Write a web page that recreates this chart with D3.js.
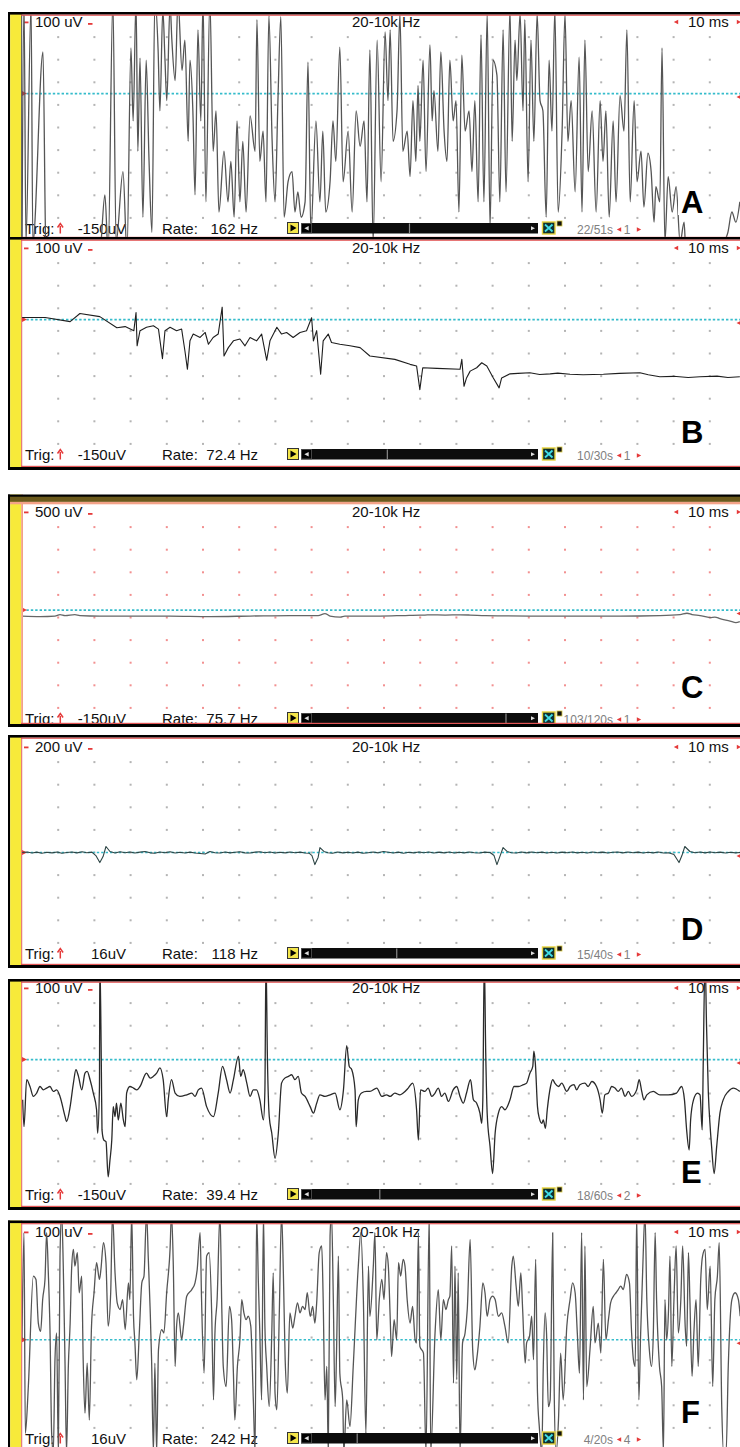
<!DOCTYPE html>
<html>
<head>
<meta charset="utf-8">
<script src="https://d3js.org/d3.v7.min.js"></script>
<style>
  html, body { margin: 0; padding: 0; background: #fff; }
  svg { display: block; font-family: Arial, "Liberation Sans", sans-serif; }
</style>
</head>
<body>
<div id="canvas"></div>
<script>
var W = 740, H = 1447;

// recording settings, one entry per trace A..F
var letters = ['A', 'B', 'C', 'D', 'E', 'F'];
var sensitivity = [100, 100, 500, 200, 100, 100];      // uV per division
var baselineDiv = [3.5, 3.5, 4.67, 5.0, 3.5, 5.1];     // trace zero, divisions from top
var trigLevels = ['-150uV', '-150uV', '-150uV', '16uV', '-150uV', '16uV'];
var rates = ['162 Hz', '72.4 Hz', '75.7 Hz', '118 Hz', '39.4 Hz', '242 Hz'];
var sweepNow = [22, 10, 103, 15, 18, 4];
var sweepTotal = [51, 30, 120, 40, 60, 20];
var channels = [1, 1, 1, 1, 2, 4];
var filterText = '20-10k Hz';
var msPerDiv = 10;

// traces: [time ms, amplitude uV]
var traceA = [[0,-659],[0.55,417],[1.1,-659],[2.5,394],[3.0,-659],[5.8,184],[6.6,-681],[10.5,-748],[16.0,-748],[21.5,-703],[22.9,-448],[23.8,-703],[25.1,417],[26.0,-659],[27.9,-345],[29.0,-703],[30.1,202],[30.7,-121],[31.5,417],[32.0,-255],[32.6,157],[33.4,-547],[34.3,148],[35.1,-300],[35.9,-614],[36.7,417],[37.6,193],[38.1,-76],[38.9,372],[39.5,148],[40.0,-31],[40.9,394],[41.4,237],[42.3,58],[43.1,417],[44.2,103],[45.0,237],[45.9,-211],[46.4,148],[47.2,-76],[47.8,-448],[48.6,282],[49.4,-121],[50.0,417],[50.8,-479],[51.9,417],[52.8,-255],[53.6,-76],[54.4,-524],[55.8,-255],[56.9,-479],[57.7,-300],[58.6,-547],[59.4,-121],[60.2,-479],[61.0,-211],[61.9,-524],[63.0,-99],[64.4,-255],[64.9,327],[65.7,-300],[66.6,-166],[67.4,-479],[68.2,345],[69.1,-211],[69.9,-479],[70.7,-31],[71.5,340],[72.4,-547],[73.5,-390],[74.6,-345],[75.4,-524],[76.2,-435],[77.1,-547],[78.2,-479],[79.0,139],[79.8,-614],[81.2,-121],[82.3,-479],[83.1,-166],[83.9,-524],[85.1,-390],[85.9,-121],[86.7,-300],[87.8,206],[88.7,-390],[90.1,-166],[91.2,-524],[92.3,-76],[93.4,-233],[94.5,-121],[95.3,-479],[96.1,193],[97.0,-659],[98.1,237],[99.2,-390],[100.3,273],[101.1,-31],[101.7,282],[102.5,-211],[103.6,-76],[104.4,354],[105.2,-255],[106.4,-166],[107.2,-367],[108.0,-31],[108.8,-300],[109.4,36],[109.9,-211],[110.8,148],[111.6,-345],[112.7,215],[113.3,-121],[113.8,13],[114.9,-255],[115.7,184],[116.6,-166],[117.4,-300],[118.2,148],[119.1,-121],[119.9,-31],[120.7,-524],[121.5,170],[122.4,-166],[123.5,-76],[124.3,-345],[125.1,-31],[126.0,-479],[126.8,260],[127.6,-479],[128.5,354],[129.3,-591],[130.1,148],[131.2,81],[132.0,-479],[132.9,282],[133.7,-435],[134.8,372],[135.4,-211],[136.2,237],[136.7,58],[137.6,354],[138.4,-76],[138.9,327],[139.8,-390],[140.6,237],[141.4,-211],[142.3,354],[143.1,-31],[143.9,-76],[144.8,-547],[145.6,148],[146.4,-166],[147.2,372],[148.1,-524],[149.2,-166],[150.0,354],[150.8,-211],[151.7,-31],[152.8,-435],[153.9,161],[154.7,-524],[155.5,237],[156.4,-345],[157.5,-76],[158.6,-524],[159.7,-31],[160.5,-300],[161.3,-76],[162.2,-547],[163.3,-121],[164.1,-479],[165.2,-9],[166.3,-166],[167.1,282],[168.0,-479],[169.1,-31],[169.9,-390],[171.0,-255],[171.8,-502],[172.9,-264],[173.8,-345],[174.6,-569],[175.1,-412],[176.2,-479],[176.8,202],[177.6,-659],[178.5,-367],[179.6,-524],[180.7,-412],[181.8,-659],[182.9,-569],[183.4,-703],[184.5,-650],[187.3,-748],[192.8,-681],[195.0,-614],[196.1,-524],[197.2,-569],[198.3,-479]];

var traceB = [[0,9],[6.4,9],[13.3,-9],[16,27],[21.5,13],[26.2,-36],[28.5,-31],[30.9,-49],[31.5,31],[31.8,-116],[32.6,-49],[34.4,-34],[36.3,-27],[37.7,-42],[38.8,-173],[39.5,-49],[40.9,-34],[42.7,-49],[44.1,-42],[45.0,-138],[45.7,-220],[46.4,-94],[47.3,-64],[49.2,-79],[50.6,-57],[51.5,-109],[52.8,-79],[54.2,-64],[55.3,55],[55.8,-161],[57.0,-124],[58.4,-94],[60.2,-86],[61.6,-116],[63.0,-79],[64.8,-94],[66.2,-64],[67.6,-180],[68.5,-94],[70.4,-34],[71.7,-64],[73.1,-57],[74.9,-79],[76.8,-57],[78.6,-49],[80.0,8],[80.5,-94],[81.4,-49],[82.5,-242],[83.2,-94],[84.6,-64],[85.5,-101],[87.8,-109],[90.6,-116],[93.4,-124],[96.1,-161],[103.0,-176],[107.2,-198],[109.0,-205],[109.9,-310],[110.7,-213],[114.6,-216],[121.0,-220],[121.5,-176],[122.1,-295],[122.8,-258],[123.8,-228],[125.6,-213],[127.0,-191],[128.4,-205],[130.2,-258],[131.8,-302],[132.5,-258],[134.8,-240],[137,-238],[140.3,-235],[143,-243],[145.9,-240],[148,-237],[151.4,-242],[155,-244],[160.6,-242],[165,-238],[170.7,-235],[173,-244],[176.2,-253],[180,-251],[184,-256],[187.3,-253],[192,-250],[195,-256],[198.3,-253]];

var traceC = [[0,-133],[5.0,-144],[9.1,-133],[10.5,-100],[11.9,-122],[14.6,-100],[16.0,-122],[21.5,-133],[29.8,-133],[40.9,-133],[51.9,-144],[63.0,-133],[74.0,-122],[81.8,-122],[83.7,-78],[85.1,-133],[87.9,-155],[89.2,-133],[98.9,-133],[105.2,-122],[110.0,-111],[111.3,-111],[112.7,-107],[116.9,-111],[121.0,-107],[123.8,-111],[127.9,-122],[140.3,-133],[154.1,-133],[165.2,-133],[176.2,-122],[181.8,-100],[183.7,-71],[185.1,-100],[187.3,-122],[190.1,-167],[191.4,-155],[192.8,-189],[195.6,-244],[197.2,-278],[198.3,-255]];

var traceD = [[0,0],[1.4,4],[2.8,-4],[4.1,3],[5.5,-6],[6.9,2],[8.3,-3],[9.7,5],[11.0,-7],[12.4,0],[13.8,4],[15.2,-3],[16.6,6],[17.9,-2],[19.3,3],[20.4,-27],[21.5,-89],[22.4,-36],[23.2,53],[24.3,9],[25.7,-4],[27.1,6],[28.5,-2],[29.8,5],[31.2,-4],[32.6,3],[34.0,9],[35.4,-3],[36.7,-6],[38.1,4],[39.5,-2],[40.9,7],[42.3,-4],[43.6,2],[45.0,-5],[46.4,3],[47.8,-4],[49.2,-9],[50.6,-13],[51.9,9],[53.3,-2],[54.7,-4],[56.1,5],[57.5,-3],[58.9,2],[60.2,6],[61.6,-3],[63.0,-5],[64.4,3],[65.7,6],[67.1,-2],[68.5,4],[69.9,-4],[71.3,2],[72.7,-3],[74.0,5],[75.4,-2],[76.8,3],[78.2,-4],[79.3,-6],[80.1,-27],[80.9,-107],[81.8,-44],[82.3,44],[83.4,9],[84.5,-2],[85.8,-6],[87.2,4],[88.6,-3],[90.0,2],[91.4,-5],[92.8,3],[94.2,-7],[95.6,-2],[97.0,4],[98.4,-3],[99.8,9],[101.2,2],[102.6,-4],[104.0,3],[105.4,-6],[106.8,2],[108.2,-3],[109.6,4],[111.0,-2],[112.4,5],[113.8,-4],[115.2,3],[116.6,-3],[118.0,4],[119.4,-5],[120.8,2],[122.2,-3],[123.6,4],[125.0,-2],[126.4,-5],[127.8,3],[129.3,0],[130.4,-27],[131.2,-107],[132.0,-36],[132.9,44],[134.0,9],[135.2,-2],[136.6,-5],[138.0,4],[139.4,-3],[140.8,5],[142.2,-2],[143.6,3],[145.0,-4],[146.4,2],[147.8,-5],[149.2,3],[150.6,-2],[152.0,4],[153.4,-3],[154.8,2],[156.2,-4],[157.6,5],[159.0,-2],[160.4,3],[161.8,-4],[163.2,2],[164.6,5],[166.0,-3],[167.4,4],[168.8,-2],[170.2,3],[171.6,-4],[173.0,2],[174.4,-3],[175.8,4],[177.2,-5],[178.6,-2],[180.1,-18],[181.5,-89],[182.3,-27],[183.1,53],[184.5,9],[185.9,-2],[187.3,4],[188.7,-3],[190.1,5],[191.5,-2],[192.9,3],[194.3,-4],[195.7,2],[197.1,-3],[198.5,1]];

var traceE = [[0.18,-178],[0.55,-297],[1.29,-89],[2.21,-119],[3.13,-163],[4.05,-148],[4.97,-119],[5.89,-134],[6.81,-126],[7.73,-119],[8.65,-141],[9.57,-134],[10.5,-163],[11.9,-252],[12.3,-274],[13.3,-208],[14.2,-104],[14.9,-45],[15.6,-74],[16.5,-134],[17.4,-60],[18.0,-52],[18.8,-89],[19.7,-148],[20.6,-222],[20.9,-326],[21.4,-119],[21.5,450],[21.9,0],[22.1,-311],[22.6,-356],[23.2,-363],[23.8,-519],[24.3,-445],[24.8,-356],[25.2,-208],[25.7,-252],[26.1,-193],[26.6,-267],[27.3,-193],[28.0,-267],[28.5,-297],[28.9,-148],[29.8,-119],[30.8,-126],[31.7,-134],[32.6,-119],[34.4,-60],[35.4,-82],[36.3,-74],[37.2,-60],[38.1,-37],[39.0,-89],[39.96,-252],[40.4,-178],[41.3,-89],[42.3,-148],[43.6,-163],[45.5,-156],[46.9,-148],[47.8,-163],[48.7,-134],[49.6,-126],[51.0,-208],[52.9,-252],[54.2,-148],[55.4,-30],[56.5,-89],[57.5,-148],[58.4,-89],[59.8,15],[60.4,-74],[61.1,-45],[62.1,-104],[63.0,-163],[63.9,-134],[64.8,-134],[65.7,-178],[66.7,-267],[67.1,-134],[67.4,450],[67.8,0],[68.3,-252],[69.0,-326],[69.9,-437],[70.8,-326],[71.7,-104],[72.6,-82],[73.6,-74],[74.5,-67],[75.4,-89],[76.3,-74],[77.2,-148],[78.2,-163],[79.6,-208],[80.5,-237],[81.4,-193],[82.3,-156],[83.7,-163],[85.1,-156],[86.5,-148],[87.8,-222],[88.8,-134],[89.7,62],[90.4,-30],[91.1,-45],[92.0,-134],[92.3,-297],[92.9,-178],[93.8,-148],[95.2,-141],[96.1,-141],[98.0,-126],[99.4,-163],[100.7,-156],[101.7,-163],[103.0,-148],[104.4,-156],[105.3,-148],[106.7,-126],[107.9,-104],[109.0,-222],[109.5,-356],[110.1,-134],[111.3,-141],[112.2,-126],[113.2,-163],[114.1,-148],[115.0,-126],[115.9,-163],[116.8,-148],[117.8,-185],[119.1,-134],[120.1,-119],[121.0,-163],[121.9,-193],[122.8,-148],[123.9,-89],[124.7,-178],[125.6,-193],[126.5,-237],[127.0,-282],[127.3,-178],[127.7,450],[128.1,29],[128.5,-237],[129.3,-385],[130.0,-504],[130.7,-326],[131.6,-237],[132.5,-208],[133.4,-222],[134.8,-178],[135.9,-119],[137.1,-119],[138.5,-111],[139.4,-104],[140.3,-60],[141.1,-30],[141.4,37],[141.8,-15],[142.4,-208],[142.9,-259],[143.6,-282],[144.0,-267],[144.6,-304],[145.1,-222],[146.0,-119],[146.6,-89],[147.2,-104],[148.2,-119],[149.1,-104],[150.5,-141],[151.4,-119],[152.5,-111],[153.2,-134],[154.1,-111],[155.5,-104],[156.4,-119],[157.4,-97],[158.7,-119],[159.7,-178],[160.3,-237],[161.0,-156],[162.0,-148],[162.9,-119],[163.8,-126],[164.7,-141],[165.6,-126],[166.6,-163],[167.5,-141],[168.4,-163],[169.8,-134],[170.5,-89],[171.2,-141],[171.8,-178],[172.6,-156],[174.4,-141],[176.2,-156],[178.5,-156],[180.8,-148],[182.2,-119],[183.0,-178],[183.6,-311],[184.3,-400],[184.7,-267],[185.5,-178],[186.6,-148],[187.3,-156],[187.9,-311],[188.2,0],[188.7,450],[189.1,148],[189.6,-148],[190.1,-297],[190.5,-385],[191.2,-504],[191.9,-385],[192.8,-237],[193.7,-178],[195.1,-141],[196.5,-126],[198.3,-141]];

var traceF = [[0,0],[0.55,474],[0.92,-414],[1.75,-207],[3.13,282],[3.86,267],[4.51,74],[5.15,37],[5.71,178],[6.35,267],[6.81,474],[7.27,296],[7.73,45],[8.19,-414],[8.65,-500],[9.11,-88],[9.57,30],[10.03,-500],[10.5,370],[10.96,560],[11.4,326],[11.9,-118],[12.3,-500],[12.8,-118],[13.3,74],[13.7,311],[14.2,400],[14.6,326],[15.3,385],[15.8,208],[16.5,282],[16.9,-88],[17.4,-325],[18.0,-103],[18.6,-355],[19.2,60],[19.9,208],[20.6,341],[21.4,267],[21.8,311],[22.5,430],[23.2,341],[23.8,60],[24.5,208],[25.0,560],[25.7,296],[26.3,163],[27.1,134],[27.8,178],[28.5,45],[29.4,252],[29.8,178],[30.3,560],[30.8,104],[31.2,-14],[31.7,-177],[32.4,30],[33.1,252],[33.7,282],[34.4,560],[34.9,356],[35.4,134],[35.8,-88],[36.3,-500],[36.7,-103],[37.2,-500],[37.7,-44],[38.6,45],[39.2,30],[39.96,208],[40.9,400],[41.3,560],[41.8,326],[42.3,-118],[42.7,60],[43.2,119],[44.1,0],[44.6,60],[45.5,193],[46.9,222],[47.8,252],[48.4,311],[49.2,474],[49.6,178],[50.3,-148],[51.0,370],[51.7,385],[52.4,119],[52.9,-266],[53.3,30],[53.9,178],[54.7,560],[55.2,134],[55.6,-118],[56.4,-207],[57.3,148],[57.9,89],[58.4,-148],[58.8,-355],[59.5,-118],[60.2,0],[60.7,178],[61.3,119],[61.9,89],[62.5,104],[63.2,60],[63.9,-266],[64.4,-500],[64.8,560],[65.3,252],[65.7,30],[66.2,-266],[66.7,560],[67.1,60],[67.6,-118],[68.3,-296],[69.0,30],[69.4,296],[69.9,-236],[70.4,-310],[71.1,134],[71.7,560],[72.2,296],[72.7,-88],[73.3,-236],[74.0,119],[74.8,52],[75.4,104],[76.1,163],[76.8,119],[77.5,148],[78.2,134],[78.8,208],[79.6,104],[80.3,148],[80.9,74],[81.4,163],[82.1,385],[82.8,415],[83.2,178],[83.7,-266],[84.2,-118],[84.6,-500],[85.1,459],[85.5,560],[86.0,178],[86.5,-296],[86.9,-44],[87.4,370],[87.8,-148],[88.6,-266],[88.9,-500],[89.7,-266],[90.6,-384],[91.5,-118],[92.9,326],[93.6,474],[94.3,178],[95.0,-414],[95.7,326],[96.1,104],[97.05,326],[97.5,474],[98.0,0],[98.7,178],[99.4,267],[100.0,178],[100.7,385],[101.2,326],[101.7,104],[102.1,-74],[102.8,89],[103.5,0],[104.0,341],[104.6,282],[105.3,356],[105.8,326],[106.4,178],[107.2,74],[107.9,148],[108.6,0],[109.0,-14],[109.5,474],[109.9,-29],[110.9,-59],[111.6,-500],[112.5,560],[112.9,-500],[114.1,30],[115.0,222],[115.7,0],[116.4,178],[117.1,134],[117.8,178],[118.2,193],[118.7,415],[119.2,-192],[119.6,326],[120.1,-177],[120.5,296],[121.0,-500],[121.7,-14],[122.4,30],[123.0,134],[123.8,444],[124.5,-44],[125.1,-133],[125.6,-88],[126.5,60],[127.3,252],[127.9,208],[128.5,104],[129.3,178],[130.0,193],[130.7,178],[131.6,104],[132.5,119],[133.4,60],[134.3,-14],[135.3,326],[135.7,370],[136.5,237],[137.1,148],[137.8,296],[138.3,134],[139.0,-103],[139.4,-14],[140.2,15],[140.8,104],[141.3,-88],[141.9,356],[142.4,-236],[142.9,-384],[143.6,-500],[144.0,-118],[144.5,119],[144.9,30],[145.4,-296],[145.9,-266],[146.6,474],[147.0,-207],[147.5,-500],[148.2,-355],[148.8,-59],[149.5,-266],[150.5,60],[151.4,178],[152.1,252],[152.8,208],[153.4,30],[154.0,-148],[154.6,474],[155.1,-266],[155.5,415],[156.0,-207],[156.9,-44],[157.8,148],[158.3,-14],[159.2,74],[159.9,-59],[160.6,356],[161.3,0],[162.0,89],[162.6,163],[163.4,193],[164.1,208],[164.7,222],[165.4,237],[166.1,222],[167.0,289],[167.8,252],[168.4,30],[168.9,-88],[169.4,-118],[169.8,560],[170.4,-266],[170.9,30],[171.5,326],[172.1,560],[172.6,178],[173.3,-44],[173.9,-118],[174.4,30],[174.9,474],[175.3,178],[176.1,-118],[176.7,-207],[177.2,-500],[177.6,178],[178.1,0],[178.6,134],[179.0,370],[179.5,-118],[180.1,178],[180.7,415],[181.3,30],[182.0,178],[182.5,415],[183.2,60],[183.6,-29],[184.1,385],[184.5,178],[185.1,-162],[185.6,30],[186.2,178],[186.8,-118],[187.5,267],[188.0,370],[188.7,400],[189.3,134],[190.1,326],[190.8,-207],[191.4,178],[192.1,282],[192.6,430],[193.3,-296],[193.8,-500],[194.5,-500],[195.1,-118],[196.1,178],[197.0,208],[197.9,178],[198.4,104]];

var traces = [traceA, traceB, traceC, traceD, traceE, traceF];

// layout
var plotLeft = 22, divW = 36.2, divH = 22.6, nDivX = 20, nDivY = 10;
var gridTop = [14.5, 240.5, 504.5, 739.5, 980.5, 1224.5];
var frameTop = [12, 237, 494.5, 735, 979, 1220.5];
var frameBottom = [241, 470, 727, 968, 1210, 1460];
var letterBase = [213, 443, 698, 940, 1183, 1423];
var dotColor = ['#b4b4b4', '#b4b4b4', '#f29090', '#b4b4b4', '#b4b4b4', '#b4b4b4'];
var traceColor = ['#555', '#1e1e1e', '#666', '#2e4646', '#2a2a2a', '#555'];
var edgeColor = ['#444', '#e06060', '#f2a088', '#e06060', '#e06060', '#e06060'];
var smooth = [true, false, true, false, true, true];
var red = '#e53a3a';

var svg;

var createSvg = function () {
  svg = d3.select('#canvas').append('svg')
    .attr('width', W)
    .attr('height', H);
};

var x = d3.scaleLinear()
  .domain([0, msPerDiv * nDivX])
  .range([plotLeft, plotLeft + divW * nDivX]);

var tri = function (g, cx, cy, dir, s, color) {
  var d = dir > 0
    ? 'M' + (cx - s) + ',' + (cy - s) + 'L' + (cx + s) + ',' + cy + 'L' + (cx - s) + ',' + (cy + s) + 'Z'
    : 'M' + (cx + s) + ',' + (cy - s) + 'L' + (cx - s) + ',' + cy + 'L' + (cx + s) + ',' + (cy + s) + 'Z';
  g.append('path').attr('d', d).attr('fill', color);
};

var txt = function (g, tx, ty, s, opts) {
  opts = opts || {};
  return g.append('text')
    .attr('x', tx).attr('y', ty)
    .attr('font-size', opts.size || 15)
    .attr('fill', opts.fill || '#111')
    .attr('text-anchor', opts.anchor || 'start')
    .attr('font-weight', opts.weight || 'normal')
    .text(s);
};

var drawWidget = function (g, bb, i) {
  var barX0 = 312, barX1 = 538;
  g.append('rect').attr('x', 287.5).attr('y', bb - 11.5).attr('width', 11).attr('height', 11)
    .attr('fill', '#f4e64a').attr('stroke', '#333').attr('stroke-width', 1);
  g.append('path').attr('d', 'M290.5,' + (bb - 9.5) + 'l6,3.5l-6,3.5z').attr('fill', '#000');
  g.append('rect').attr('x', 301).attr('y', bb - 11).attr('width', barX1 - 301).attr('height', 10.5)
    .attr('fill', '#0c0c0c');
  g.append('rect').attr('x', 301.5).attr('y', bb - 10.5).attr('width', 10).attr('height', 9.5)
    .attr('fill', '#000').attr('stroke', '#555').attr('stroke-width', 0.8);
  tri(g, 306.5, bb - 5.8, -1, 2.2, '#ddd');
  var thumb = barX0 + (barX1 - barX0) * sweepNow[i] / sweepTotal[i];
  g.append('line').attr('x1', thumb).attr('x2', thumb).attr('y1', bb - 10.5).attr('y2', bb - 0.5)
    .attr('stroke', '#8a8a8a').attr('stroke-width', 1.2);
  tri(g, barX1 - 5, bb - 5.8, 1, 2, '#ddd');
  g.append('rect').attr('x', 542.5).attr('y', bb - 12).attr('width', 12.5).attr('height', 12)
    .attr('fill', '#103030').attr('stroke', '#e6d23c').attr('stroke-width', 1.4);
  g.append('path')
    .attr('d', 'M545,' + (bb - 9.5) + 'L552.5,' + (bb - 2.5) + 'M552.5,' + (bb - 9.5) + 'L545,' + (bb - 2.5))
    .attr('stroke', '#40dde6').attr('stroke-width', 1.8);
  g.append('rect').attr('x', 557).attr('y', bb - 13).attr('width', 5).attr('height', 5)
    .attr('fill', '#111').attr('stroke', '#d8c840').attr('stroke-width', 0.8);

  txt(g, 613, bb - 0.5, sweepNow[i] + '/' + sweepTotal[i] + 's', { size: 12, fill: '#808080', anchor: 'end' });
  tri(g, 619, bb - 4.5, -1, 2.2, red);
  txt(g, 627, bb - 0.5, String(channels[i]), { size: 12, fill: '#808080', anchor: 'middle' });
  tri(g, 639, bb - 4.5, 1, 2.2, red);
};

var drawPanel = function (i) {
  var top = gridTop[i];
  var bb = top + 219.5;
  var y = d3.scaleLinear()
    .domain([sensitivity[i] * baselineDiv[i], -sensitivity[i] * (nDivY - baselineDiv[i])])
    .range([top, top + divH * nDivY]);
  var g = svg.append('g');

  svg.select('defs').append('clipPath').attr('id', 'clip' + i)
    .append('rect')
    .attr('x', plotLeft).attr('y', frameTop[i] + 3)
    .attr('width', W - plotLeft).attr('height', frameBottom[i] - frameTop[i] - 6);

  g.append('rect').attr('x', 8).attr('y', frameTop[i])
    .attr('width', W - 8).attr('height', frameBottom[i] - frameTop[i])
    .attr('fill', '#fff');

  // grid dots at every division
  var cols = d3.range(1, nDivX).map(function (k) { return k * msPerDiv; });
  var rows = d3.range(1, nDivY).map(function (r) { return sensitivity[i] * (baselineDiv[i] - r); });
  var dots = [];
  cols.forEach(function (c) { rows.forEach(function (r) { dots.push([c, r]); }); });
  g.selectAll('rect.dot').data(dots).enter().append('rect')
    .attr('class', 'dot')
    .attr('x', function (d) { return x(d[0]) - 1; })
    .attr('y', function (d) { return y(d[1]) - 1; })
    .attr('width', 2).attr('height', 2)
    .attr('fill', dotColor[i]);

  // trace zero line
  g.append('line')
    .attr('x1', plotLeft).attr('x2', W)
    .attr('y1', y(0)).attr('y2', y(0))
    .attr('stroke', '#35bccb').attr('stroke-width', 1.7)
    .attr('stroke-dasharray', '2.4,2');
  tri(g, plotLeft + 2.5, y(0), 1, 2.5, red);
  tri(g, W - 1, y(0) + 3.5, -1, 2.5, red);

  // header
  g.append('rect').attr('x', 24).attr('y', top + 7).attr('width', 4.5).attr('height', 1.8).attr('fill', red);
  txt(g, 35, top + 12.5, sensitivity[i] + ' uV');
  g.append('rect').attr('x', 88).attr('y', top + 8.5).attr('width', 4.5).attr('height', 1.8).attr('fill', red);
  txt(g, 352, top + 12.5, filterText);
  tri(g, 676, top + 7.5, -1, 2.2, red);
  txt(g, 688, top + 12.5, msPerDiv + ' ms');
  tri(g, 739, top + 7.5, 1, 2.2, red);

  // footer
  txt(g, 25, bb, 'Trig:');
  g.append('path')
    .attr('d', 'M60.3,' + (bb - 0.5) + 'V' + (bb - 8) + 'M57.5,' + (bb - 6.5) + 'L60.3,' + (bb - 10.5) + 'L63.1,' + (bb - 6.5))
    .attr('stroke', red).attr('stroke-width', 1.5).attr('fill', 'none');
  txt(g, 126, bb, trigLevels[i], { anchor: 'end' });
  txt(g, 162, bb, 'Rate:');
  txt(g, 258, bb, rates[i], { anchor: 'end' });

  // the trace
  var line = d3.line()
    .x(function (d) { return x(d[0]); })
    .y(function (d) { return y(d[1]); })
    .curve(smooth[i] ? d3.curveMonotoneX : d3.curveLinear);
  g.append('path')
    .datum(traces[i])
    .attr('d', line)
    .attr('clip-path', 'url(#clip' + i + ')')
    .attr('fill', 'none')
    .attr('stroke', traceColor[i])
    .attr('stroke-width', i === 1 || i === 3 ? 1.1 : 1.3)
    .attr('stroke-linejoin', 'round');

  drawWidget(g, bb, i);

  // frame
  g.append('rect').attr('x', 8).attr('y', frameTop[i]).attr('width', 2.2)
    .attr('height', frameBottom[i] - frameTop[i]).attr('fill', '#000');
  g.append('rect').attr('x', 10.2).attr('y', frameTop[i]).attr('width', 11)
    .attr('height', frameBottom[i] - frameTop[i]).attr('fill', '#f7ea3a');
  g.append('rect').attr('x', 21.2).attr('y', frameTop[i]).attr('width', i === 2 ? 1.8 : 1)
    .attr('height', frameBottom[i] - frameTop[i]).attr('fill', edgeColor[i]);
  g.append('rect').attr('x', 8).attr('y', frameTop[i]).attr('width', W - 8).attr('height', 2.6)
    .attr('fill', '#000');
  if (i === 2) {
    g.append('rect').attr('x', 10).attr('y', frameTop[i] + 2.2).attr('width', W - 10).attr('height', 5.2)
      .attr('fill', '#6b5a1c');
    g.append('rect').attr('x', 10).attr('y', frameTop[i] + 7.4).attr('width', W - 10).attr('height', 2.4)
      .attr('fill', '#f3a288');
  } else {
    g.append('rect').attr('x', 21).attr('y', frameTop[i] + 2.6).attr('width', W - 21).attr('height', 1.2)
      .attr('fill', '#e25555');
  }
  g.append('rect').attr('x', 21).attr('y', frameBottom[i] - 4.2).attr('width', W - 21).attr('height', 1.2)
    .attr('fill', '#e25555');
  g.append('rect').attr('x', 8).attr('y', frameBottom[i] - 3).attr('width', W - 8).attr('height', 3)
    .attr('fill', '#000');

  // panel letter
  g.append('rect').attr('x', 678).attr('y', letterBase[i] - 25).attr('width', 30).attr('height', 27)
    .attr('fill', '#fff');
  txt(g, 681, letterBase[i], letters[i], { size: 31, weight: 'bold', fill: '#000' });
};

createSvg();
svg.append('defs');
d3.range(letters.length).forEach(function (i) { drawPanel(i); });
</script>
</body>
</html>
